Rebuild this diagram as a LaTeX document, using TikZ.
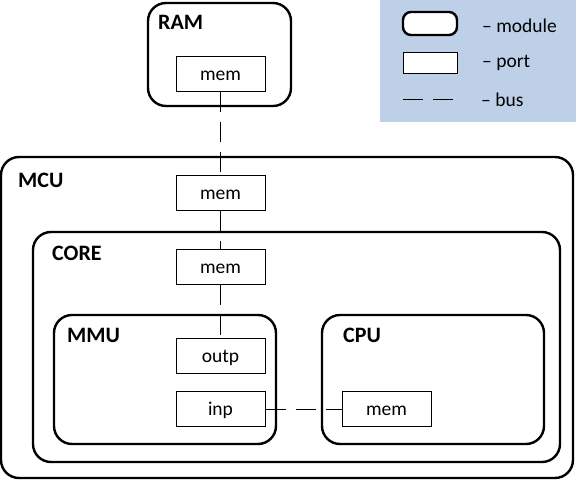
\documentclass[tikz,border=0pt]{standalone}
\usepackage{fontspec}
\setmainfont{Carlito}
\definecolor{legendblue}{RGB}{190,207,232}
\begin{document}
\begin{tikzpicture}[x=1pt, y=-1pt,
  module/.style={line width=2.4pt, rounded corners=18pt},
  port/.style={draw, line width=1pt, fill=white, minimum width=89pt, minimum height=35pt,
    inner sep=0pt, text height=13pt, text depth=0pt, font=\fontsize{19.5}{22}\selectfont},
  title/.style={anchor=base west, inner sep=0pt, font=\fontsize{22}{25}\selectfont\bfseries},
  bus/.style={line width=1pt, dash pattern=on 20pt off 10pt},
  legtext/.style={anchor=base west, inner sep=0pt, font=\fontsize{19.5}{22}\selectfont}]
\useasboundingbox (0,0) rectangle (576,482);
% legend
\fill[legendblue] (380,0) rectangle (576,122);
\draw[module, rounded corners=8pt, fill=white] (403,12) rectangle (457,35);
\node[port, minimum width=54pt, minimum height=21pt] (legport) at (430,62.5) {};
\draw[bus] (403,99) -- (455,99);
\node[legtext] (legmodule) at (482,32) {– module};
\node[legtext] (legportlbl) at (482,67) {– port};
\node[legtext] (legbus) at (481,106) {– bus};
% modules
\draw[module] (148,3) rectangle (291,106);
\draw[module] (1,157) rectangle (573,478);
\draw[module] (33,232) rectangle (560,462);
\draw[module] (54,315) rectangle (276,444);
\draw[module] (322,315) rectangle (544,444);
\node[title] (ram) at (158,29) {RAM};
\node[title] (mcu) at (18,187) {MCU};
\node[title] (core) at (52,260) {CORE};
\node[title] (mmu) at (67,342) {MMU};
\node[title] (cpu) at (343,342) {CPU};
% ports
\node[port] (rammem) at (220.5,74) {mem};
\node[port] (mcumem) at (220.5,193) {mem};
\node[port] (coremem) at (220.5,267) {mem};
\node[port] (outp) at (220.5,355.5) {outp};
\node[port] (inp) at (220.5,409) {inp};
\node[port] (cpumem) at (386.5,409) {mem};
% buses
\draw[bus] (rammem.south) -- (mcumem.north);
\draw[bus] (mcumem.south) -- (coremem.north);
\draw[bus] (coremem.south) -- (outp.north);
\draw[bus] (inp.east) -- (cpumem.west);
\end{tikzpicture}
\end{document}
